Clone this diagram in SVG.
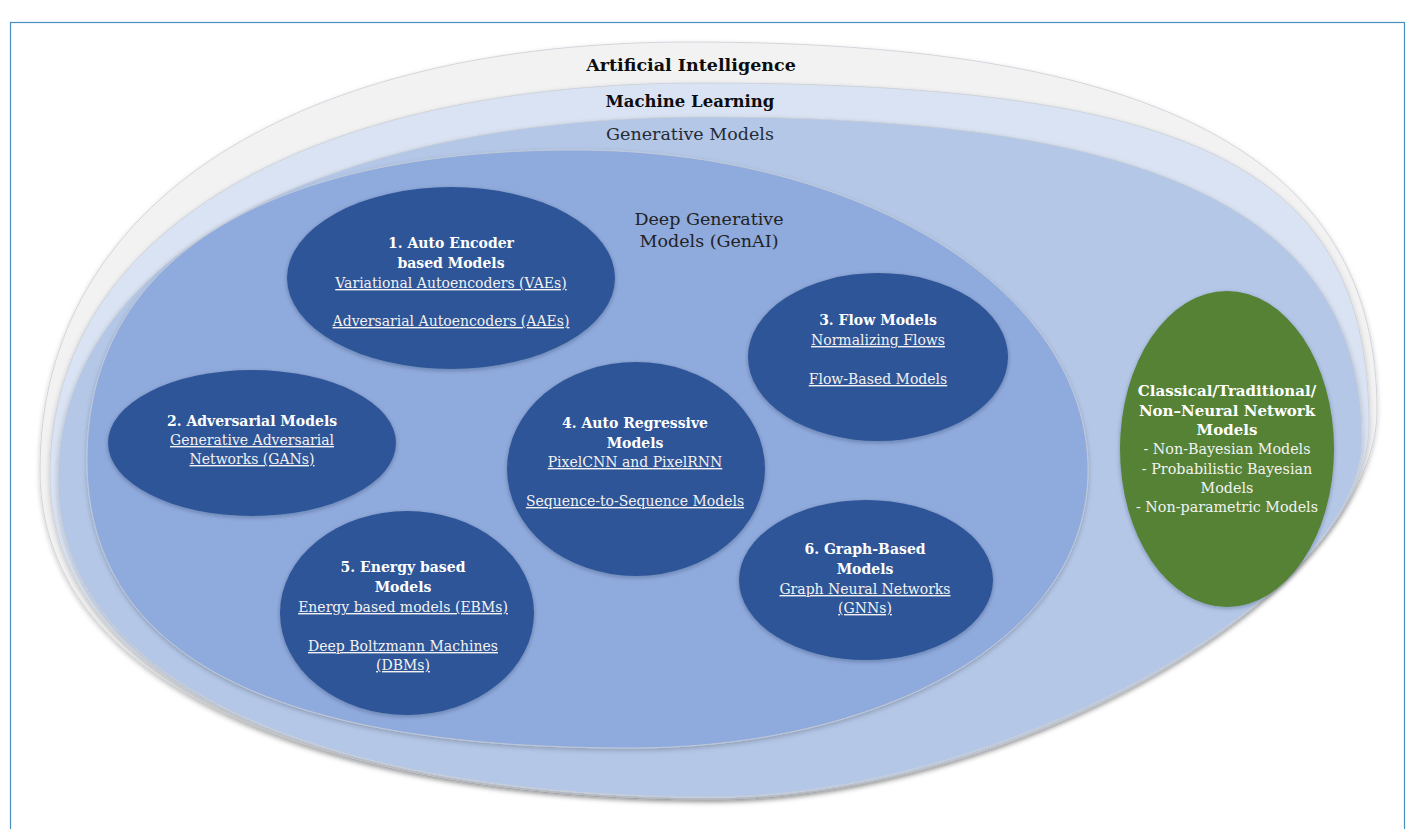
<svg xmlns="http://www.w3.org/2000/svg" width="1410" height="829" viewBox="0 0 1410 829">
  <defs>
    <filter id="softShadow" x="-5%" y="-5%" width="110%" height="112%">
      <feDropShadow dx="0" dy="2" stdDeviation="2.5" flood-color="#000" flood-opacity="0.22"/>
    </filter>
    <filter id="nodeShadow" x="-10%" y="-10%" width="120%" height="125%">
      <feDropShadow dx="0" dy="1.5" stdDeviation="2" flood-color="#0b1a3a" flood-opacity="0.3"/>
    </filter>
  </defs>
  <style>
    .layer { stroke: #c9ced6; stroke-width: 0.8; filter: url(#softShadow); }
    .title { font-family: "DejaVu Serif", "Liberation Serif", serif; text-anchor: middle; }
    .node { fill: #2f5597; filter: url(#nodeShadow); }
    .head { font-family: "DejaVu Serif", "Liberation Serif", serif; font-size: 14px; font-weight: bold; fill: #ffffff; text-anchor: middle; }
    .item { font-family: "DejaVu Serif", "Liberation Serif", serif; font-size: 14px; fill: #f2f2f2; text-anchor: middle; text-decoration: underline; }
    .plain { font-family: "DejaVu Serif", "Liberation Serif", serif; font-size: 14.3px; fill: #f2f2f2; text-anchor: middle; }
    .ghead { font-size: 15px; }
  </style>

  <rect width="1410" height="829" fill="#ffffff"/>
  <!-- page frame -->
  <rect x="10.5" y="22.5" width="1394" height="830" fill="none" stroke="#4a8fc0" stroke-width="1.2"/>

  <!-- nested domains -->
  <g id="artificial-intelligence">
    <path class="layer" fill="#f2f2f2" d="M 40,470 C 40,200 300,42 690,42 C 1180,42 1377,170 1377,410 C 1377,590 1010,800 712,800 C 350,800 40,700 40,470 Z"/>
    <text class="title" x="691" y="71" font-size="17.5" font-weight="bold" fill="#0d0d0d">Artificial Intelligence</text>
  </g>
  <g id="machine-learning">
    <path class="layer" fill="#dae3f3" d="M 50,475 C 50,225 320,83 700,83 C 1200,83 1369,170 1369,425 C 1369,600 1005,799 712,799 C 355,799 50,700 50,475 Z"/>
    <text class="title" x="690" y="107" font-size="16.5" font-weight="bold" fill="#0d0d0d">Machine Learning</text>
  </g>
  <g id="generative-models">
    <path class="layer" fill="#b4c7e7" d="M 58,480 C 58,255 330,117 705,117 C 1130,117 1362,200 1362,440 C 1362,600 995,797 712,797 C 360,797 58,700 58,480 Z"/>
    <text class="title" x="690" y="140" font-size="17.5" fill="#252b35">Generative Models</text>
  </g>
  <g id="deep-generative-models">
    <path class="layer" fill="#8faadc" d="M 87,460 C 87,250 280,150 575,150 C 860,150 1088,290 1088,470 C 1088,640 880,748 630,748 C 300,748 87,670 87,460 Z"/>
    <text class="title" x="709" y="225" font-size="17.5" fill="#222222">Deep Generative</text>
    <text class="title" x="709" y="247" font-size="17.5" fill="#222222">Models (GenAI)</text>
  </g>

  <!-- model families -->
  <g id="auto-encoder">
    <ellipse class="node" cx="451" cy="278" rx="164" ry="91"/>
    <text class="head" x="451" y="248">1. Auto Encoder</text>
    <text class="head" x="451" y="268">based Models</text>
    <text class="item" x="451" y="288">Variational Autoencoders (VAEs)</text>
    <text class="item" x="451" y="326">Adversarial Autoencoders (AAEs)</text>
  </g>
  <g id="adversarial">
    <ellipse class="node" cx="252" cy="443" rx="144" ry="73"/>
    <text class="head" x="252" y="426">2. Adversarial Models</text>
    <text class="item" x="252" y="445">Generative Adversarial</text>
    <text class="item" x="252" y="464">Networks (GANs)</text>
  </g>
  <g id="flow">
    <ellipse class="node" cx="878" cy="357" rx="130" ry="84"/>
    <text class="head" x="878" y="325">3. Flow Models</text>
    <text class="item" x="878" y="345">Normalizing Flows</text>
    <text class="item" x="878" y="384">Flow-Based Models</text>
  </g>
  <g id="auto-regressive">
    <ellipse class="node" cx="636" cy="469" rx="129" ry="107"/>
    <text class="head" x="635" y="428">4. Auto Regressive</text>
    <text class="head" x="635" y="448">Models</text>
    <text class="item" x="635" y="467">PixelCNN and PixelRNN</text>
    <text class="item" x="635" y="506">Sequence-to-Sequence Models</text>
  </g>
  <g id="energy-based">
    <ellipse class="node" cx="407" cy="613" rx="127" ry="102"/>
    <text class="head" x="403" y="572">5. Energy based</text>
    <text class="head" x="403" y="592">Models</text>
    <text class="item" x="403" y="612">Energy based models (EBMs)</text>
    <text class="item" x="403" y="651">Deep Boltzmann Machines</text>
    <text class="item" x="403" y="670">(DBMs)</text>
  </g>
  <g id="graph-based">
    <ellipse class="node" cx="866" cy="580" rx="127" ry="80"/>
    <text class="head" x="865" y="554">6. Graph-Based</text>
    <text class="head" x="865" y="574">Models</text>
    <text class="item" x="865" y="594">Graph Neural Networks</text>
    <text class="item" x="865" y="613">(GNNs)</text>
  </g>
  <g id="classical">
    <ellipse class="node" style="fill:#548235" cx="1227" cy="449" rx="107" ry="158"/>
    <text class="head ghead" x="1227" y="396">Classical/Traditional/</text>
    <text class="head ghead" x="1227" y="416">Non–Neural Network</text>
    <text class="head ghead" x="1227" y="435">Models</text>
    <text class="plain" x="1227" y="454">- Non-Bayesian Models</text>
    <text class="plain" x="1227" y="474">- Probabilistic Bayesian</text>
    <text class="plain" x="1227" y="493">Models</text>
    <text class="plain" x="1227" y="512">- Non-parametric Models</text>
  </g>

  <!-- no connectors: containment is shown by nesting -->
  <g id="connectors"/>
</svg>
